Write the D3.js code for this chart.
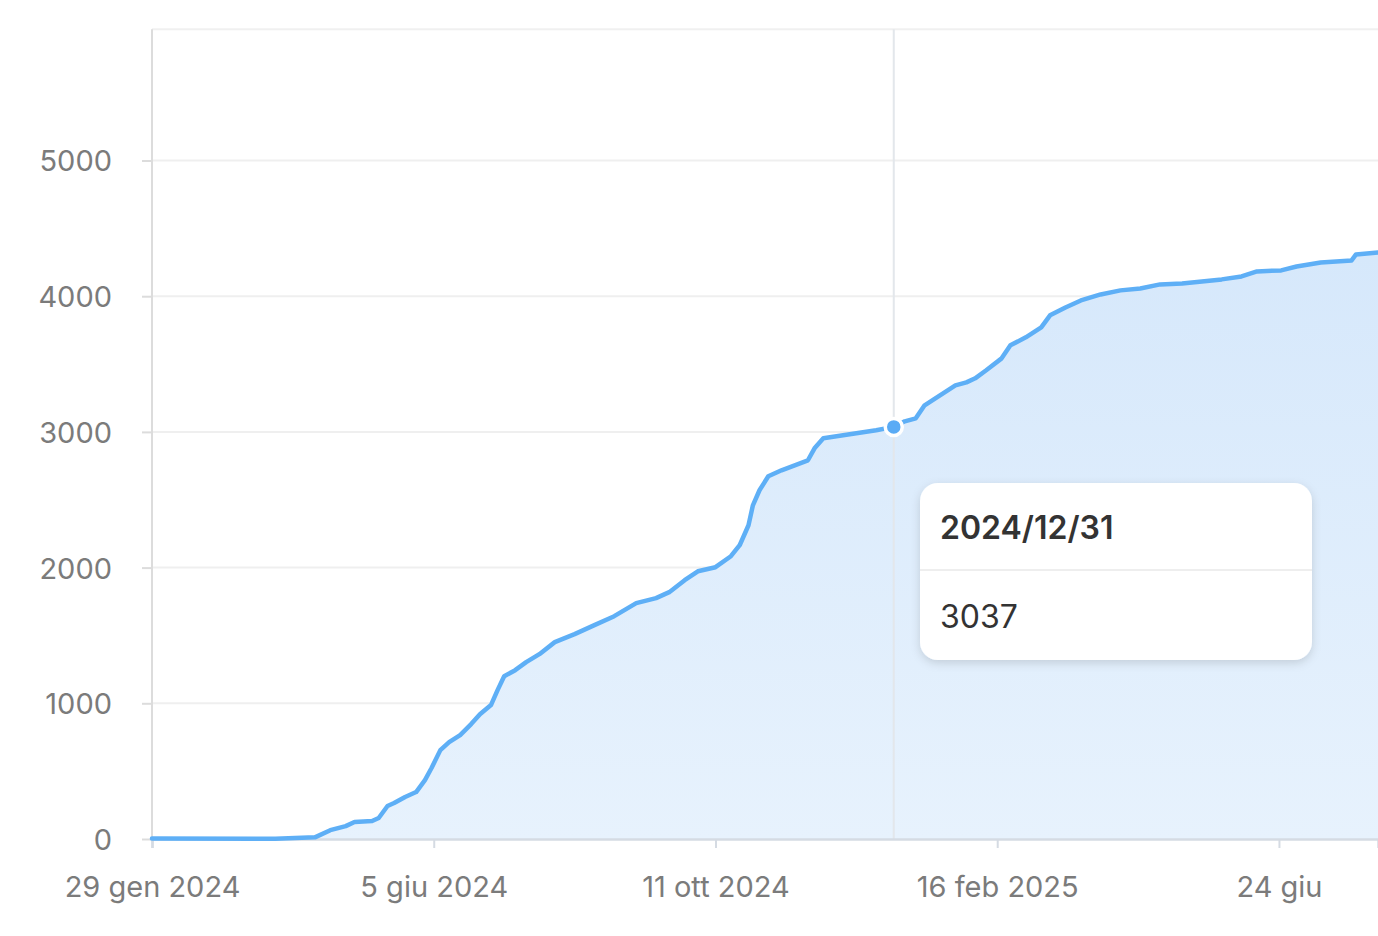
<!DOCTYPE html>
<html>
<head>
<meta charset="utf-8">
<script src="https://cdn.jsdelivr.net/npm/d3@7"></script>
<style>
  html, body { margin: 0; padding: 0; background: #fff; }
  svg { display: block; font-family: Inter, "Noto Sans", sans-serif; }
</style>
</head>
<body>
<div id="chart"></div>
<script>
// cumulative count by day
var dates = [
  "2024-01-29","2024-03-25","2024-04-12","2024-04-19","2024-04-26","2024-04-30",
  "2024-05-08","2024-05-11","2024-05-15","2024-05-18","2024-05-23","2024-05-28",
  "2024-06-01","2024-06-04","2024-06-08","2024-06-12","2024-06-17","2024-06-22",
  "2024-06-26","2024-07-01","2024-07-04","2024-07-07","2024-07-12","2024-07-17",
  "2024-07-23","2024-07-30","2024-08-08","2024-08-17","2024-08-26","2024-09-05",
  "2024-09-14","2024-09-20","2024-09-27","2024-10-03","2024-10-11","2024-10-18",
  "2024-10-22","2024-10-26","2024-10-28","2024-10-31","2024-11-04","2024-11-10",
  "2024-11-16","2024-11-22","2024-11-25","2024-11-29","2024-12-05","2024-12-14",
  "2024-12-23","2024-12-31","2025-01-05","2025-01-10","2025-01-14","2025-01-21",
  "2025-01-28","2025-02-02","2025-02-06","2025-02-11","2025-02-18","2025-02-22",
  "2025-03-01","2025-03-08","2025-03-12","2025-03-19","2025-03-26","2025-04-04",
  "2025-04-13","2025-04-22","2025-05-01","2025-05-11","2025-05-20","2025-05-29",
  "2025-06-07","2025-06-14","2025-06-25","2025-07-02","2025-07-13","2025-07-27",
  "2025-07-29","2025-08-08"
];
var values = [
  4, 2, 12, 65, 95, 125,
  133, 155, 243, 265, 310, 346,
  434, 523, 655, 714, 766, 847,
  920, 987, 1097, 1200, 1244, 1303,
  1362, 1451, 1510, 1576, 1642, 1738,
  1775, 1819, 1907, 1973, 2003, 2084,
  2165, 2312, 2459, 2570, 2673, 2717,
  2754, 2791, 2879, 2953, 2968, 2990,
  3012, 3037, 3078, 3100, 3196, 3270,
  3343, 3365, 3395, 3454, 3542, 3638,
  3697, 3770, 3859, 3917, 3969, 4013,
  4043, 4057, 4087, 4094, 4109, 4124,
  4146, 4183, 4190, 4219, 4249, 4264,
  4308, 4323
];
var xTickDates = ["2024-01-29", "2024-06-05", "2024-10-11", "2025-02-16", "2025-06-24"];
var xTickLabels = ["29 gen 2024", "5 giu 2024", "11 ott 2024", "16 feb 2025", "24 giu"];
var yTicks = [0, 1000, 2000, 3000, 4000, 5000];
var hoverDate = "2024-12-31";
var hoverLabel = "2024/12/31";

var W = 1378, H = 936;
var margin = { top: 29.3, left: 152 };
var plotRight = 1378, plotBottom = 839;
var fontFam = "Inter, 'Noto Sans', sans-serif";

var parse = d3.timeParse("%Y-%m-%d");
var data = dates.map(function(d, i) { return { date: parse(d), value: values[i] }; });

var svg = d3.select("#chart").append("svg")
  .attr("width", W)
  .attr("height", H);

var x = d3.scaleTime()
  .domain([parse("2024-01-29"), parse("2025-08-08")])
  .range([margin.left, plotRight]);

var y = d3.scaleLinear()
  .domain([0, 5967])
  .range([plotBottom, margin.top]);

var defs = svg.append("defs");
var grad = defs.append("linearGradient")
  .attr("id", "areaFill")
  .attr("gradientUnits", "userSpaceOnUse")
  .attr("x1", 0).attr("y1", y(4300))
  .attr("x2", 0).attr("y2", plotBottom);
grad.append("stop").attr("offset", "0%").attr("stop-color", "#d6e8fb");
grad.append("stop").attr("offset", "100%").attr("stop-color", "#e7f2fd");

var filt = defs.append("filter").attr("id", "shadow")
  .attr("x", "-20%").attr("y", "-20%").attr("width", "140%").attr("height", "150%");
filt.append("feDropShadow")
  .attr("dx", 0).attr("dy", 3).attr("stdDeviation", 5)
  .attr("flood-color", "#000").attr("flood-opacity", 0.14);

// top border
svg.append("line")
  .attr("x1", margin.left).attr("x2", plotRight)
  .attr("y1", margin.top).attr("y2", margin.top)
  .attr("stroke", "#f0f0f0").attr("stroke-width", 2);

// grid lines
svg.append("g")
  .selectAll("line")
  .data(yTicks.slice(1))
  .enter()
  .append("line")
    .attr("x1", margin.left).attr("x2", plotRight)
    .attr("y1", function(d) { return y(d); })
    .attr("y2", function(d) { return y(d); })
    .attr("stroke", "#efefef")
    .attr("stroke-width", 2);

// area + line
var area = d3.area()
  .x(function(d) { return x(d.date); })
  .y0(y(0))
  .y1(function(d) { return y(d.value); });

var line = d3.line()
  .x(function(d) { return x(d.date); })
  .y(function(d) { return y(d.value); });

svg.append("path")
  .datum(data)
  .attr("d", area)
  .attr("fill", "url(#areaFill)");

// crosshair
svg.append("line")
  .attr("x1", x(parse(hoverDate))).attr("x2", x(parse(hoverDate)))
  .attr("y1", margin.top).attr("y2", plotBottom)
  .attr("stroke", "#e3e7eb").attr("stroke-width", 2);

// y axis
var yAxis = svg.append("g")
  .attr("transform", "translate(" + margin.left + ",0)")
  .call(d3.axisLeft(y).tickValues(yTicks).tickSize(10).tickPadding(30).tickFormat(d3.format("d")));
yAxis.attr("font-family", fontFam);
yAxis.select(".domain").remove();
yAxis.selectAll("line").attr("stroke", "#dcdcdc").attr("stroke-width", 2);
yAxis.selectAll("text")
  .style("font-size", "29px")
  .style("fill", "#7b7b7b")
  .attr("dy", "0.36em");

svg.append("line")
  .attr("x1", margin.left).attr("x2", margin.left)
  .attr("y1", margin.top).attr("y2", plotBottom)
  .attr("stroke", "#dcdcdc").attr("stroke-width", 2);

// x axis
var xAxis = svg.append("g")
  .attr("transform", "translate(0," + plotBottom + ")")
  .call(d3.axisBottom(x)
    .tickValues(xTickDates.map(parse))
    .tickSize(9)
    .tickPadding(28)
    .tickFormat(function(d, i) { return xTickLabels[i]; }));
xAxis.attr("font-family", fontFam);
xAxis.select(".domain").attr("stroke", "#d5dbe3").attr("stroke-width", 2.5);
xAxis.selectAll("line").attr("stroke", "#d5dbe3").attr("stroke-width", 2);
xAxis.selectAll("text")
  .style("font-size", "29px")
  .style("fill", "#7b7b7b");

svg.append("path")
  .datum(data)
  .attr("d", line)
  .attr("fill", "none")
  .attr("stroke", "#5eaff6")
  .attr("stroke-width", 4.5)
  .attr("stroke-linejoin", "round")
  .attr("stroke-linecap", "round");

// hovered point
var hp = data[dates.indexOf(hoverDate)];
svg.append("circle")
  .attr("cx", x(hp.date))
  .attr("cy", y(hp.value))
  .attr("r", 8.5)
  .attr("fill", "#5aabf5")
  .attr("stroke", "#fff")
  .attr("stroke-width", 3.5);

// tooltip
var tip = svg.append("g").attr("transform", "translate(920,483)");
tip.append("rect")
  .attr("width", 392).attr("height", 177)
  .attr("rx", 18)
  .attr("fill", "#fff")
  .attr("filter", "url(#shadow)");
tip.append("line")
  .attr("x1", 0).attr("x2", 392)
  .attr("y1", 87).attr("y2", 87)
  .attr("stroke", "#e8e8e8").attr("stroke-width", 1.5);
tip.append("text")
  .attr("x", 20).attr("y", 56)
  .style("font-size", "32px")
  .style("font-weight", 600)
  .style("fill", "#333")
  .text(hoverLabel);
tip.append("text")
  .attr("x", 20).attr("y", 145)
  .style("font-size", "32px")
  .style("font-weight", 400)
  .style("fill", "#333")
  .text(hp.value);
</script>
</body>
</html>
